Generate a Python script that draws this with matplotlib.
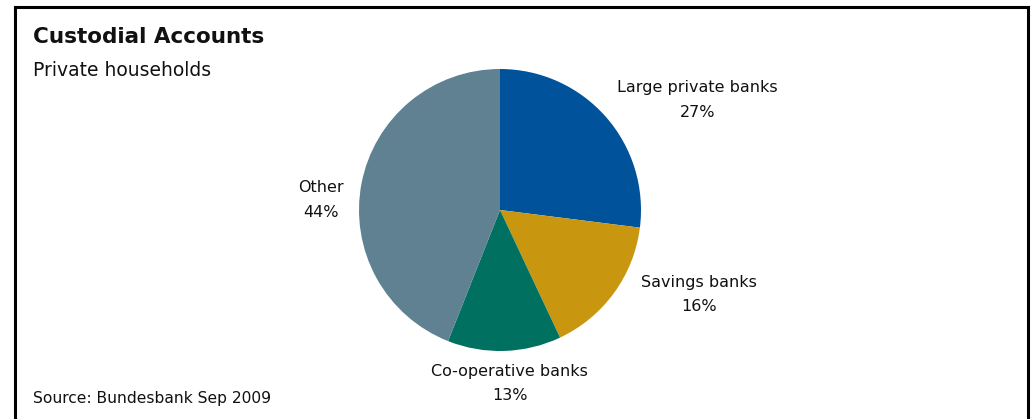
import matplotlib.pyplot as plt
from matplotlib.lines import Line2D

## Données

categories = ["Large private banks", "Savings banks", "Co-operative banks", "Other"]
parts = [27, 16, 13, 44]
couleurs = ["#00529B", "#C8960F", "#007060", "#5F8192"]

titre = "Custodial Accounts"
sous_titre = "Private households"
source = "Source: Bundesbank Sep 2009"

## Figure

plt.rcParams['font.family'] = ['DejaVu Sans']
W, H = 1032, 419
fig = plt.figure(figsize=(W/100, H/100), dpi=100)

# cadre noir (pas de bord en bas)
for xs, ys in [([15, 15], [0, 412]), ([15, 1028], [412, 412]), ([1028, 1028], [412, 0])]:
    fig.add_artist(Line2D([x/W for x in xs], [y/H for y in ys], color='black', lw=2.2))

# camembert
cx, cy, r = 500, 210, 141
ax = fig.add_axes([(cx-r)/W, 1-(cy+r)/H, 2*r/W, 2*r/H])
ax.pie(parts, colors=couleurs, startangle=90, counterclock=False,
       wedgeprops=dict(linewidth=0))
ax.set_xlim(-1, 1)
ax.set_ylim(-1, 1)
ax.axis('off')

# étiquettes
pos_etiquettes = [(1.40, 0.78), (1.41, -0.60), (0.07, -1.23), (-1.27, 0.07)]
for (x, y), nom, p in zip(pos_etiquettes, categories, parts):
    ax.text(x, y, f"{nom}\n{p}%", ha='center', va='center', fontsize=11.5,
            linespacing=1.8, color='#111111', clip_on=False)

fig.text(33/W, 1-37/H, titre, fontsize=15.5, fontweight='bold', va='center', color='#111111')
fig.text(33/W, 1-71/H, sous_titre, fontsize=13.5, va='center', color='#111111')
fig.text(33/W, 1-398/H, source, fontsize=11.2, va='center', color='#111111')

fig.savefig("out.png", dpi=100)
